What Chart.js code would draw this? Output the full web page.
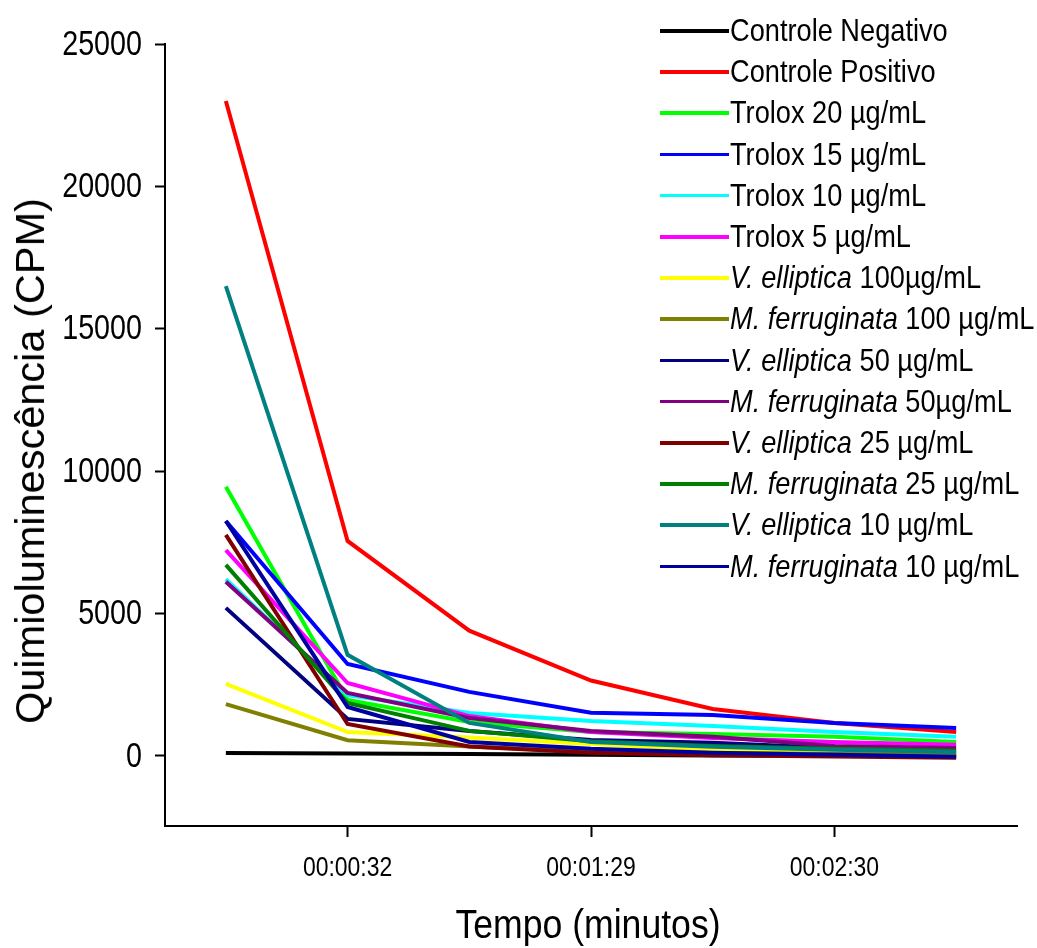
<!DOCTYPE html>
<html>
<head>
<meta charset="utf-8">
<script src="https://cdn.jsdelivr.net/npm/chart.js@4.4.0/dist/chart.umd.min.js"></script>
<style>
  html, body { margin: 0; padding: 0; background: #fff; }
  #wrap { position: relative; width: 1037px; height: 948px; }
  #c { position: absolute; left: 0; top: 0; }
  .sans { font-family: "Liberation Sans", Arial, sans-serif; color: #000; }
  #legend { position: absolute; left: 660px; top: 10px; }
  .row { position: absolute; left: 0; height: 40px; white-space: nowrap; font-size: 32px; line-height: 40px; }
  .sw { position: absolute; left: 0; top: 19px; width: 69px; height: 3.5px; }
  .lt { position: absolute; left: 70px; top: 0; transform: scaleX(0.85); transform-origin: 0 50%; }
  #ytitle { position: absolute; font-size: 41.5px; white-space: nowrap;
            left: 30px; top: 461px; transform: translate(-50%, -50%) rotate(-90deg); }
  #xtitle { position: absolute; font-size: 40px; white-space: nowrap; left: 588px; top: 924px;
            transform: translate(-50%, -50%) scaleX(0.89); }
</style>
</head>
<body>
<div id="wrap">
  <canvas id="c" width="1037" height="948"></canvas>
  <div id="legend" class="sans"></div>
  <div id="ytitle" class="sans">Quimioluminescência (CPM)</div>
  <div id="xtitle" class="sans">Tempo (minutos)</div>
</div>
<script>
// ---- data ----
const timeLabels = ['', '00:00:32', '', '00:01:29', '', '00:02:30', ''];
const yTickValues = [0, 5000, 10000, 15000, 20000, 25000];

const controleNegativo   = [100, 90, 70, 40, 20, 10, 0];
const controlePositivo   = [23000, 7550, 4400, 2650, 1650, 1160, 840];
const trolox20           = [9450, 1970, 1190, 840, 770, 670, 490];
const trolox15           = [8250, 3230, 2250, 1520, 1440, 1160, 980];
const trolox10           = [6210, 2140, 1510, 1230, 1050, 840, 670];
const trolox5            = [7230, 2560, 1400, 840, 630, 490, 390];
const vElliptica100      = [2530, 840, 650, 420, 210, 150, 100];
const mFerruginata100    = [1820, 550, 330, 150, 100, 70, 50];
const vElliptica50       = [5200, 1300, 880, 560, 460, 280, null];
const mFerruginata50     = [6120, 2210, 1330, 880, 670, 350, 280];
const vElliptica25       = [7760, 1120, 330, 110, 20, -20, -60];
const mFerruginata25     = [6710, 1860, 880, 520, 350, 250, 180];
const vElliptica10       = [16500, 3550, 1160, 490, 320, 220, 140];
const mFerruginata10     = [8250, 1720, 490, 250, 110, 40, -30];

// legend names: [italic part, normal part]
const seriesNames = [
  ['', 'Controle Negativo'],
  ['', 'Controle Positivo'],
  ['', 'Trolox 20 µg/mL'],
  ['', 'Trolox 15 µg/mL'],
  ['', 'Trolox 10 µg/mL'],
  ['', 'Trolox 5 µg/mL'],
  ['V. elliptica', ' 100µg/mL'],
  ['M. ferruginata', ' 100 µg/mL'],
  ['V. elliptica', ' 50 µg/mL'],
  ['M. ferruginata', ' 50µg/mL'],
  ['V. elliptica', ' 25 µg/mL'],
  ['M. ferruginata', ' 25 µg/mL'],
  ['V. elliptica', ' 10 µg/mL'],
  ['M. ferruginata', ' 10 µg/mL']
];
const seriesValues = [controleNegativo, controlePositivo, trolox20, trolox15, trolox10, trolox5,
  vElliptica100, mFerruginata100, vElliptica50, mFerruginata50, vElliptica25, mFerruginata25,
  vElliptica10, mFerruginata10];
const seriesColors = ['#000000', '#FF0000', '#00FF00', '#0000FF', '#00FFFF', '#FF00FF', '#FFFF00',
  '#808000', '#000080', '#800080', '#800000', '#008000', '#008080', '#0000A0'];

// ---- legend (HTML) ----
const legend = document.getElementById('legend');
seriesNames.forEach((n, i) => {
  const row = document.createElement('div');
  row.className = 'row';
  row.style.top = (i * 41.2) + 'px';
  const sw = document.createElement('div');
  sw.className = 'sw';
  sw.style.background = seriesColors[i];
  const t = document.createElement('div');
  t.className = 'lt';
  if (n[0]) { const em = document.createElement('i'); em.textContent = n[0]; t.appendChild(em); }
  t.appendChild(document.createTextNode(n[1]));
  row.appendChild(sw); row.appendChild(t);
  legend.appendChild(row);
});

const FONT = '"Liberation Sans", Arial, sans-serif';
const SQUEEZE = 0.82;

// Draw the library's tick labels with a condensed (horizontally squeezed) face
const condensedTicks = {
  id: 'condensedTicks',
  afterDraw(chart) {
    const ctx = chart.ctx;
    const xs = chart.scales.x, ys = chart.scales.y;
    ctx.save();
    ctx.fillStyle = '#000';
    // y ticks
    ctx.font = '35px ' + FONT;
    ctx.textAlign = 'right';
    ctx.textBaseline = 'middle';
    ys.ticks.forEach((t) => {
      const py = ys.getPixelForValue(t.value);
      ctx.save();
      ctx.translate(ys.right - 23, py + 1);
      ctx.scale(SQUEEZE, 1);
      ctx.fillText(String(t.value), 0, 0);
      ctx.restore();
    });
    // x ticks
    ctx.font = '28px ' + FONT;
    ctx.textAlign = 'center';
    ctx.textBaseline = 'middle';
    xs.ticks.forEach((t, i) => {
      const lab = xs.getLabelForValue(t.value);
      if (!lab) return;
      const px = xs.getPixelForTick(i);
      ctx.save();
      ctx.translate(px, xs.top + 42);
      ctx.scale(SQUEEZE, 1);
      ctx.fillText(lab, 0, 0);
      ctx.restore();
    });
    ctx.restore();
  }
};

const datasets = seriesValues.map((vals, i) => ({
  label: seriesNames[i].join(''),
  data: vals,
  borderColor: seriesColors[i],
  backgroundColor: seriesColors[i],
  borderWidth: 4,
  pointRadius: 0,
  tension: 0,
  fill: false,
  spanGaps: false,
  order: seriesValues.length - i
}));

new Chart(document.getElementById('c'), {
  type: 'line',
  data: { labels: timeLabels, datasets },
  plugins: [condensedTicks],
  options: {
    responsive: false,
    animation: false,
    events: [],
    layout: { padding: { left: 0, right: 20, top: 44, bottom: 0 } },
    plugins: { legend: { display: false }, tooltip: { enabled: false }, title: { display: false } },
    scales: {
      x: {
        type: 'category',
        offset: true,
        border: { display: true, color: '#000', width: 2 },
        grid: {
          display: true,
          drawOnChartArea: false,
          drawTicks: true,
          tickLength: 11,
          tickWidth: 2,
          offset: false,
          color: (ctx) => (ctx.tick && ctx.tick.label) ? '#000' : 'rgba(0,0,0,0)',
          tickColor: (ctx) => (ctx.tick && ctx.tick.label) ? '#000' : 'rgba(0,0,0,0)'
        },
        ticks: {
          display: false,
          autoSkip: false,
          maxRotation: 0,
          minRotation: 0
        },
        afterFit: (s) => { s.height = 122; }
      },
      y: {
        type: 'linear',
        min: -2460,
        max: 25000,
        border: { display: true, color: '#000', width: 2 },
        grid: {
          display: true,
          drawOnChartArea: false,
          drawTicks: true,
          tickLength: 10,
          tickWidth: 2,
          color: '#000',
          tickColor: '#000'
        },
        ticks: {
          display: false,
          stepSize: 5000
        },
        afterBuildTicks: (s) => { s.ticks = yTickValues.map(v => ({ value: v })); },
        afterFit: (s) => { s.width = 165; }
      }
    }
  }
});
</script>
</body>
</html>
